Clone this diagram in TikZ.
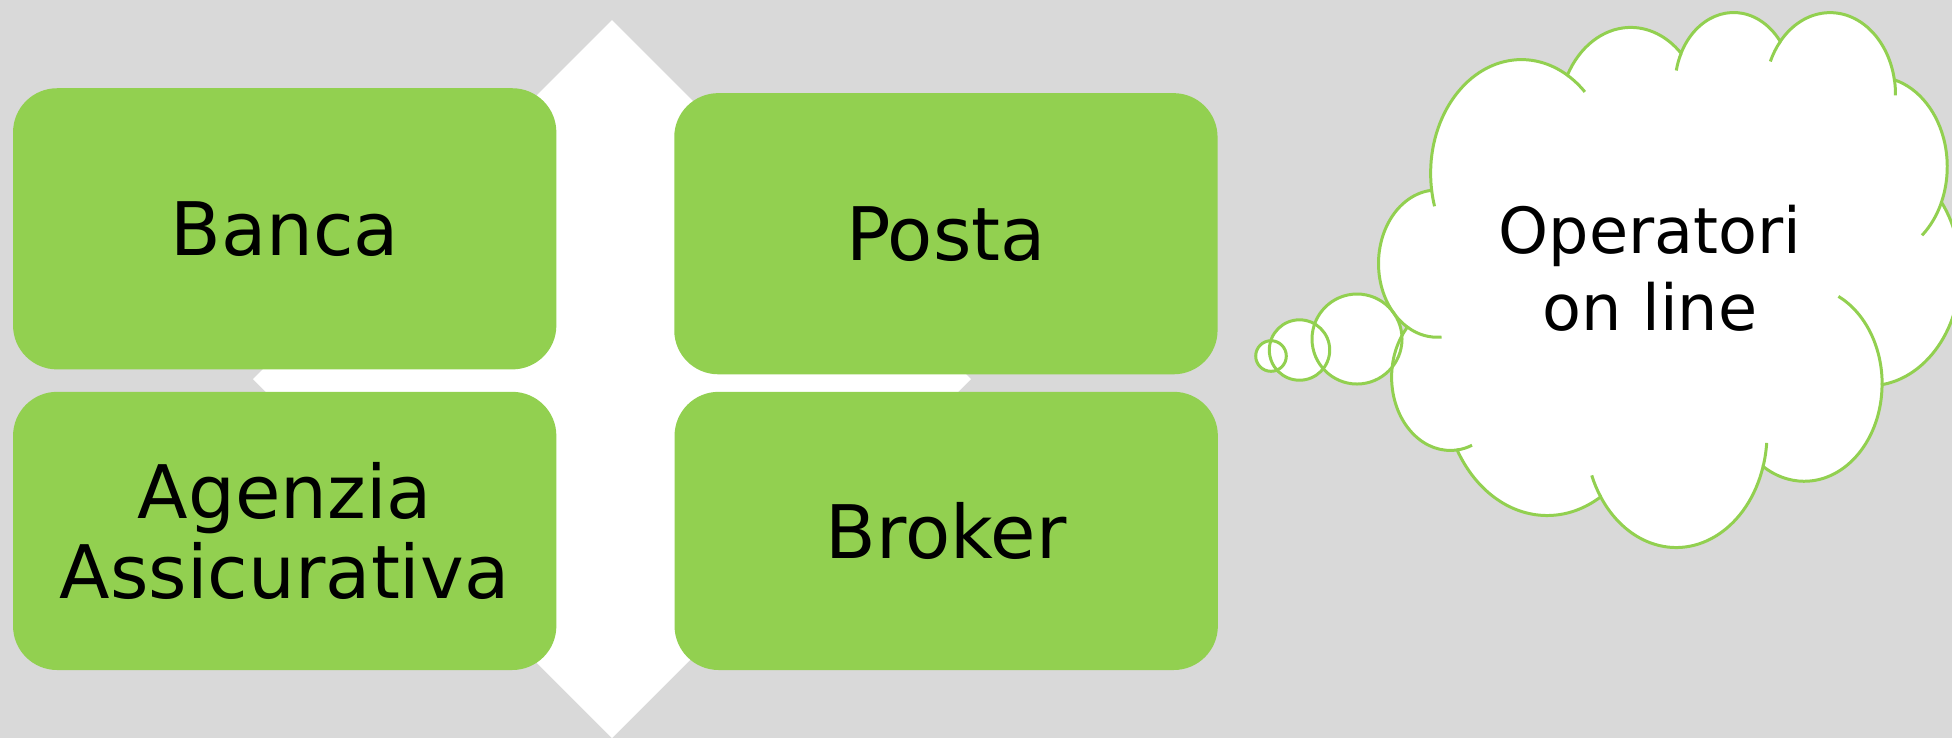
\documentclass[tikz,border=0pt]{standalone}
\usepackage{fontspec}
\setmainfont{DejaVu Sans}
\usetikzlibrary{shapes.misc}
\definecolor{sfondo}{RGB}{217,217,217}
\definecolor{verde}{RGB}{146,208,80}
\newcommand{\archi}{172.254/128.109/67.53/91.90, -152.034/106.584/53.33/72.67,
    -153.493/116.150/43.65/59.45, -139.703/129.492/48.57/65.95,
    -74.768/97.977/53.33/72.73, -37.520/119.383/67.75/92.20,
    0.460/121.518/57.85/78.67, 16.843/129.381/67.52/92.15,
    58.989/91.186/77.20/105.43, 83.306/139.788/43.60/59.18,
    120.354/143.758/43.45/59.45}

\begin{document}
\begin{tikzpicture}[x=0.01cm, y=-0.01cm,
    box/.style={fill=verde, rounded corners=0.44cm, minimum width=5.43cm,
        inner sep=0pt, align=center, font=\fontsize{21pt}{22.8pt}\selectfont},
    nuvola/.style={draw=verde, line width=0.85pt}]
    \useasboundingbox (0,0) rectangle (1952,738);
    \clip (0,0) rectangle (1952,738);
    \fill[sfondo] (0,0) rectangle (1952,738);
    \fill[white] (612,20) -- (971,379) -- (612,738) -- (253,379) -- cycle;

    \node[box, minimum height=2.81cm] (banca) at (284.7,228.8) {Banca};
    \node[box, minimum height=2.81cm] (posta) at (945.9,233.7) {Posta};
    \node[box, minimum height=2.78cm] (agenzia) at (284.7,530.9) {Agenzia\\Assicurativa};
    \node[box, minimum height=2.78cm] (broker) at (946.2,530.9) {Broker};

    \begin{scope}[shift={(1379,10.77)}, xscale=1.345, yscale=1.238]
        \fill[white] (39,143.7) \foreach \s/\d/\a/\b in \archi {
            arc[start angle=\s, delta angle=\d, x radius=\a, y radius=\b]} -- cycle;
    \end{scope}
    \fill[white] (1357,339) circle[radius=45];
    \fill[white] (1299.5,350) circle[radius=30.2];
    \fill[white] (1271,356) circle[radius=15.3];

    \begin{scope}[shift={(1379,10.77)}, xscale=1.345, yscale=1.238]
        \draw[nuvola] (39,143.7) \foreach \s/\d/\a/\b in \archi {
            arc[start angle=\s, delta angle=\d, x radius=\a, y radius=\b]} -- cycle;
        \coordinate (c1) at (105.914,131.314);
        \coordinate (c3) at (263.631,60.842);
        \coordinate (c4) at (335.376,67.422);
        \coordinate (c5) at (369.167,125.906);
        \coordinate (c7) at (316.181,301.355);
        \coordinate (c8) at (220.921,341.388);
        \coordinate (c10) at (52.973,295.927);
        \coordinate (c11) at (43.095,204.197);
        \foreach \c/\s/\e/\a/\b in {c1/-59.637/-45.737/67.53/91.90,
            c1/163.194/172.254/67.53/91.90, c3/-167.724/-153.493/43.65/59.45,
            c4/-156.297/-139.703/48.57/65.95, c4/-10.211/0.821/48.57/65.95,
            c5/23.209/49.667/53.33/72.73, c7/-64.025/0.460/57.85/78.67,
            c8/4.737/16.843/67.52/92.15, c8/146.224/158.473/67.52/92.15,
            c10/68.236/83.306/43.60/59.18, c11/85.546/120.354/43.45/59.45}
            \draw[nuvola] (\c) ++({\a*cos(\s)},{\b*sin(\s)})
                arc[start angle=\s, end angle=\e, x radius=\a, y radius=\b];
    \end{scope}
    \draw[nuvola] (1357,339) circle[radius=45];
    \draw[nuvola] (1299.5,350) circle[radius=30.2];
    \draw[nuvola] (1271,356) circle[radius=15.3];

    \node[align=center, font=\fontsize{18.1pt}{21.8pt}\selectfont] (operatori)
        at (1650,268) {Operatori\\on line};
\end{tikzpicture}
\end{document}
